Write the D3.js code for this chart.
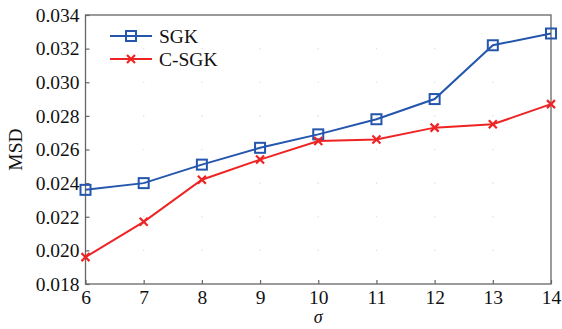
<!DOCTYPE html>
<html>
<head>
  <meta charset="utf-8">
  <script src="https://d3js.org/d3.v7.min.js"></script>
  <style type="text/css">
  body { margin: 0; background: #fff; }
  svg { display: block; }
  text { font-family: "Liberation Serif", serif; fill: #111; }
  </style>
</head>
<body>
  <script type="text/javascript">
    // chart data
    var sigma = [6, 7, 8, 9, 10, 11, 12, 13, 14];
    var sgk = [0.0236, 0.0240, 0.0251, 0.0261, 0.0269, 0.0278, 0.0290, 0.0322, 0.0329];
    var csgk = [0.0196, 0.0217, 0.0242, 0.0254, 0.0265, 0.0266, 0.0273, 0.0275, 0.0287];
    var yTicks = [0.018, 0.020, 0.022, 0.024, 0.026, 0.028, 0.030, 0.032, 0.034];
    var seriesNames = ["SGK", "C-SGK"];

    var margin = {top: 15, right: 11, bottom: 45, left: 85.5},
      width = 562 - margin.left - margin.right,
      height = 329 - margin.top - margin.bottom;

    var fontSize = 19.5;

    var svg = d3.select("body").append("svg")
      .attr("width", 562)
      .attr("height", 329);

    var g = svg.append("g")
      .attr("transform", "translate(" + margin.left + "," + margin.top + ")");

    var x = d3.scaleLinear().domain([6, 14]).range([0, width]);
    var y = d3.scaleLinear().domain([0.018, 0.034]).range([height, 0]);

    // faint grid dots at the tick crossings
    sigma.slice(1, -1).forEach(function(sx) {
      yTicks.slice(1, -1).forEach(function(ty) {
        g.append("circle")
          .attr("cx", x(sx)).attr("cy", y(ty)).attr("r", 0.8)
          .attr("fill", "#e4e4e4");
      });
    });

    // frame
    g.append("rect")
      .attr("width", width).attr("height", height)
      .attr("fill", "none").attr("stroke", "#666").attr("stroke-width", 1.3);

    var xAxis = g.append("g")
      .attr("transform", "translate(0," + height + ")")
      .call(d3.axisBottom(x).tickValues(sigma).tickSizeInner(-4).tickSizeOuter(0).tickPadding(6));
    var yAxis = g.append("g")
      .call(d3.axisLeft(y).tickValues(yTicks).tickFormat(d3.format(".3f")).tickSizeInner(-4).tickSizeOuter(0).tickPadding(6));

    [xAxis, yAxis].forEach(function(a) {
      a.attr("font-family", null);
      a.select(".domain").remove();
      a.selectAll(".tick line").attr("stroke", "#666").attr("stroke-width", 1.2);
      a.selectAll("text").attr("font-size", fontSize).attr("fill", "#111");
    });

    // axis titles
    svg.append("text")
      .attr("transform", "translate(22," + (margin.top + height / 2) + ") rotate(-90)")
      .attr("text-anchor", "middle")
      .attr("font-size", fontSize)
      .text("MSD");

    svg.append("text")
      .attr("x", margin.left + width / 2)
      .attr("y", 323)
      .attr("text-anchor", "middle")
      .attr("font-size", 18)
      .attr("font-style", "italic")
      .text("σ");

    var colors = {"SGK": "#2456ad", "C-SGK": "#ee2424"};
    var line = d3.line()
      .x(function(d) { return x(d[0]); })
      .y(function(d) { return y(d[1]); });

    function squareMark(sel, c) {
      sel.append("rect")
        .attr("x", -5).attr("y", -5).attr("width", 10).attr("height", 10)
        .attr("fill", "none").attr("stroke", c).attr("stroke-width", 2);
    }
    function crossMark(sel, c) {
      sel.append("path")
        .attr("d", "M-4,-4L4,4M-4,4L4,-4")
        .attr("stroke", c).attr("stroke-width", 2.2);
    }

    var sets = [
      {name: "SGK", vals: sgk, mark: squareMark},
      {name: "C-SGK", vals: csgk, mark: crossMark}
    ];

    sets.forEach(function(s) {
      var pts = sigma.map(function(v, i) { return [v, s.vals[i]]; });
      g.append("path")
        .datum(pts)
        .attr("d", line)
        .attr("fill", "none")
        .attr("stroke", colors[s.name])
        .attr("stroke-width", 2);
      pts.forEach(function(p) {
        var m = g.append("g").attr("transform", "translate(" + x(p[0]) + "," + y(p[1]) + ")");
        s.mark(m, colors[s.name]);
      });
    });

    // legend
    var legend = svg.selectAll(".legend")
      .data(sets)
      .enter().append("g")
      .attr("class", "legend")
      .attr("transform", function(d, i) { return "translate(110," + (36 + i * 23) + ")"; });

    legend.append("line")
      .attr("x1", 0).attr("x2", 42)
      .attr("stroke", function(d) { return colors[d.name]; })
      .attr("stroke-width", 2);
    legend.each(function(d) {
      var m = d3.select(this).append("g").attr("transform", "translate(21,0)");
      d.mark(m, colors[d.name]);
    });
    legend.append("text")
      .attr("x", 49)
      .attr("dy", "0.34em")
      .attr("font-size", fontSize)
      .text(function(d) { return d.name; });
  </script>
</body>
</html>
